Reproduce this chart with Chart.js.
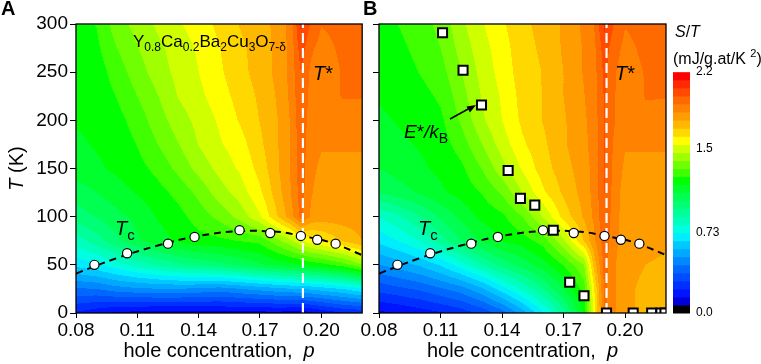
<!DOCTYPE html>
<html>
<head>
<meta charset="utf-8">
<script src="https://cdn.jsdelivr.net/npm/chart.js@4.4.1/dist/chart.umd.min.js"></script>
<style>
  html, body { margin: 0; padding: 0; background: #fff; }
  #wrapA { position: absolute; left: 0; top: 0; width: 368px; height: 364px; }
  #wrapB { position: absolute; left: 358px; top: 0; width: 403px; height: 364px; }
</style>
</head>
<body>
<div id="wrapA"><canvas id="chartA" width="368" height="364"></canvas></div>
<div id="wrapB"><canvas id="chartB" width="403" height="364"></canvas></div>
<script>
// grid nodes of the S/T map (hole concentration p, temperature T in K)
const pNodes = [0.08, 0.09, 0.10, 0.11, 0.12, 0.13, 0.14, 0.15, 0.16, 0.17, 0.18, 0.185, 0.19, 0.195, 0.20, 0.21, 0.22];
const tNodes = [300, 275, 250, 225, 200, 175, 150, 125, 100, 75, 50, 25, 0];

// S/T (mJ/g.at/K^2), panel A, one row per tNodes entry
const stA = [
  [1.21, 1.25, 1.36, 1.42, 1.48, 1.53, 1.58, 1.63, 1.69, 1.73, 1.79, 1.87, 2.07, 1.97, 1.91, 1.93, 1.93],
  [1.20, 1.23, 1.32, 1.39, 1.45, 1.50, 1.55, 1.61, 1.67, 1.72, 1.79, 1.86, 2.02, 1.92, 1.88, 1.92, 1.93],
  [1.19, 1.21, 1.28, 1.36, 1.43, 1.49, 1.54, 1.60, 1.66, 1.72, 1.79, 1.86, 1.98, 1.89, 1.86, 1.91, 1.92],
  [1.18, 1.20, 1.25, 1.32, 1.39, 1.47, 1.52, 1.58, 1.64, 1.70, 1.78, 1.85, 1.97, 1.88, 1.86, 1.91, 1.91],
  [1.18, 1.19, 1.22, 1.28, 1.36, 1.43, 1.49, 1.55, 1.62, 1.69, 1.77, 1.84, 1.96, 1.87, 1.85, 1.88, 1.88],
  [1.16, 1.18, 1.20, 1.25, 1.32, 1.39, 1.47, 1.53, 1.58, 1.67, 1.77, 1.84, 1.95, 1.86, 1.84, 1.84, 1.84],
  [1.14, 1.16, 1.19, 1.22, 1.27, 1.34, 1.42, 1.49, 1.55, 1.64, 1.77, 1.84, 1.95, 1.85, 1.82, 1.82, 1.82],
  [1.06, 1.10, 1.14, 1.18, 1.22, 1.27, 1.34, 1.43, 1.50, 1.60, 1.75, 1.83, 1.94, 1.84, 1.80, 1.80, 1.80],
  [0.99, 1.03, 1.08, 1.12, 1.18, 1.22, 1.28, 1.34, 1.42, 1.53, 1.71, 1.80, 1.93, 1.82, 1.80, 1.80, 1.80],
  [0.84, 0.92, 1.01, 1.09, 1.14, 1.19, 1.22, 1.23, 1.25, 1.27, 1.39, 1.45, 1.53, 1.58, 1.61, 1.69, 1.76],
  [0.68, 0.72, 0.78, 0.84, 0.89, 0.94, 0.97, 1.00, 1.04, 1.09, 1.13, 1.15, 1.17, 1.20, 1.22, 1.28, 1.39],
  [0.43, 0.44, 0.48, 0.50, 0.51, 0.51, 0.50, 0.48, 0.51, 0.54, 0.57, 0.58, 0.59, 0.60, 0.62, 0.66, 0.72],
  [0.21, 0.17, 0.13, 0.12, 0.11, 0.11, 0.11, 0.12, 0.12, 0.12, 0.12, 0.11, 0.10, 0.13, 0.16, 0.21, 0.23]
];

// S/T (mJ/g.at/K^2), panel B
const stB = [
  [1.21, 1.25, 1.29, 1.34, 1.45, 1.53, 1.60, 1.67, 1.71, 1.77, 1.85, 1.91, 2.07, 1.97, 1.91, 1.93, 1.93],
  [1.20, 1.23, 1.27, 1.32, 1.42, 1.51, 1.58, 1.66, 1.70, 1.77, 1.84, 1.89, 2.02, 1.93, 1.89, 1.92, 1.93],
  [1.19, 1.21, 1.25, 1.29, 1.39, 1.49, 1.57, 1.65, 1.69, 1.76, 1.84, 1.88, 2.00, 1.91, 1.88, 1.91, 1.92],
  [1.18, 1.20, 1.22, 1.26, 1.36, 1.47, 1.55, 1.64, 1.69, 1.76, 1.83, 1.88, 1.99, 1.91, 1.86, 1.91, 1.91],
  [1.16, 1.18, 1.20, 1.23, 1.33, 1.45, 1.54, 1.63, 1.69, 1.75, 1.82, 1.87, 1.98, 1.91, 1.86, 1.89, 1.88],
  [1.14, 1.16, 1.18, 1.21, 1.28, 1.39, 1.50, 1.60, 1.67, 1.75, 1.81, 1.87, 1.98, 1.89, 1.84, 1.84, 1.84],
  [1.10, 1.13, 1.16, 1.19, 1.23, 1.32, 1.44, 1.55, 1.65, 1.73, 1.80, 1.86, 1.98, 1.88, 1.82, 1.82, 1.82],
  [1.03, 1.07, 1.11, 1.16, 1.20, 1.25, 1.33, 1.47, 1.60, 1.70, 1.79, 1.86, 1.98, 1.87, 1.80, 1.80, 1.80],
  [0.81, 0.87, 0.95, 1.04, 1.12, 1.19, 1.23, 1.32, 1.47, 1.64, 1.77, 1.85, 1.97, 1.86, 1.80, 1.80, 1.80],
  [0.68, 0.74, 0.81, 0.92, 1.03, 1.11, 1.18, 1.21, 1.28, 1.45, 1.69, 1.82, 1.95, 1.85, 1.80, 1.78, 1.77],
  [0.51, 0.55, 0.60, 0.67, 0.77, 0.88, 0.98, 1.06, 1.14, 1.25, 1.39, 1.72, 1.94, 1.84, 1.79, 1.76, 1.75],
  [0.32, 0.35, 0.38, 0.43, 0.48, 0.57, 0.70, 0.82, 0.95, 1.10, 1.28, 1.61, 1.93, 1.84, 1.78, 1.74, 1.72],
  [0.13, 0.15, 0.18, 0.21, 0.25, 0.31, 0.40, 0.55, 0.72, 0.92, 1.18, 1.58, 1.92, 1.84, 1.78, 1.74, 1.72]
];

// Tc points and dome
const tcP = [0.089, 0.105, 0.125, 0.138, 0.160, 0.175, 0.190, 0.198, 0.207];
const tcT = [50, 62, 72, 79, 86, 83, 80, 76, 72];
const domeP = [0.08, 0.10, 0.12, 0.14, 0.16, 0.18, 0.19, 0.20, 0.21, 0.22];
const domeT = [41, 57, 70, 80, 85, 84, 80, 76, 69, 60];

// T* line and E*/kB squares (panel B)
const tStarP = 0.191;
const sqP = [0.111, 0.121, 0.130, 0.143, 0.149, 0.156, 0.165, 0.173, 0.180, 0.191, 0.204, 0.213, 0.2175, 0.2195];
const sqT = [291, 252, 216, 148, 119, 112, 86, 32, 18, 0, 0, 0, 0, 0];

// ticks
const xTicks = [0.08, 0.11, 0.14, 0.17, 0.20];
const yTicks = [0, 50, 100, 150, 200, 250, 300];
const cbTicks = [0, 0.73, 1.5, 2.2];
const cbLabels = ['0.0', '0.73', '1.5', '2.2'];

// colour scale, 30 bands from 0 to 2.2
const stMax = 2.2;
const bandColors = [
  '#000000', '#0000d8', '#0014ff', '#0030ff', '#004cff', '#0068ff', '#0088ff', '#00a8ff', '#00c8ff', '#00ecff',
  '#00ffe0', '#00ffbc', '#00ff98', '#00ff74', '#00ff50', '#00ff2c', '#00ff00', '#40ff00', '#70ff00', '#a0ff00',
  '#d0ff00', '#ffff00', '#ffd800', '#ffb800', '#ff9c00', '#ff8200', '#ff6a00', '#ff4a00', '#ff2a00', '#ff0000'
];

const FAMILY = '"Liberation Sans", Arial, sans-serif';
Chart.defaults.font.family = FAMILY;
Chart.defaults.color = '#000';

const bandRGB = bandColors.map(h => [parseInt(h.slice(1, 3), 16), parseInt(h.slice(3, 5), 16), parseInt(h.slice(5, 7), 16)]);

function clamp01(v) { return v < 0 ? 0 : (v > 1 ? 1 : v); }

// bilinear value of the grid at (p, T)
function sampleGrid(grid, p, t) {
  let i = 0;
  while (i < pNodes.length - 2 && p > pNodes[i + 1]) i++;
  let j = 0;
  while (j < tNodes.length - 2 && t < tNodes[j + 1]) j++;
  const fx = clamp01((p - pNodes[i]) / (pNodes[i + 1] - pNodes[i]));
  const fy = clamp01((tNodes[j] - t) / (tNodes[j] - tNodes[j + 1]));
  const a = grid[j][i], b = grid[j][i + 1], c = grid[j + 1][i], d = grid[j + 1][i + 1];
  return a * (1 - fx) * (1 - fy) + b * fx * (1 - fy) + c * (1 - fx) * fy + d * fx * fy;
}

// filled contour map, painted under everything
function makeField(grid) {
  return {
    id: 'field',
    beforeDraw(chart) {
      const { ctx, chartArea: a } = chart;
      const xs = chart.scales.x, ys = chart.scales.y;
      const left = Math.round(a.left), top = Math.round(a.top);
      const w = Math.round(a.right) - left, h = Math.round(a.bottom) - top;
      const img = ctx.createImageData(w, h);
      const step = stMax / bandColors.length;
      for (let r = 0; r < h; r++) {
        const t = ys.getValueForPixel(top + r + 0.5);
        for (let c = 0; c < w; c++) {
          const p = xs.getValueForPixel(left + c + 0.5);
          let k = Math.floor(sampleGrid(grid, p, t) / step);
          k = Math.max(0, Math.min(bandColors.length - 1, k));
          const rgb = bandRGB[k], idx = (r * w + c) * 4;
          img.data[idx] = rgb[0]; img.data[idx + 1] = rgb[1]; img.data[idx + 2] = rgb[2]; img.data[idx + 3] = 255;
        }
      }
      ctx.putImageData(img, left, top);
    }
  };
}

// frame round the plot
const boxPlugin = {
  id: 'box',
  afterDatasetsDraw(chart) {
    const { ctx, chartArea: a } = chart;
    ctx.save();
    ctx.strokeStyle = '#000';
    ctx.lineWidth = 1.3;
    ctx.strokeRect(a.left, a.top, a.right - a.left, a.bottom - a.top);
    ctx.restore();
  }
};

// text in mixed styles, left to right
function partsWidth(ctx, parts) {
  let w = 0;
  for (const pt of parts) {
    ctx.font = (pt.style || '') + ' ' + pt.size + 'px ' + FAMILY;
    w += ctx.measureText(pt.t).width;
  }
  return w;
}
function drawParts(ctx, x, y, parts) {
  ctx.textAlign = 'left';
  ctx.textBaseline = 'alphabetic';
  ctx.fillStyle = '#000';
  for (const pt of parts) {
    ctx.font = (pt.style || '') + ' ' + pt.size + 'px ' + FAMILY;
    ctx.fillText(pt.t, x, y + (pt.dy || 0));
    x += ctx.measureText(pt.t).width;
  }
}

const xTitle = [{ t: 'hole concentration,  ', size: 20 }, { t: 'p', size: 20, style: 'italic' }];
const tcLabel = [{ t: 'T', size: 20, style: 'italic' }, { t: 'c', size: 15, dy: 5 }];
const tStarLabel = [{ t: 'T', size: 20, style: 'italic' }, { t: '*', size: 20 }];

const pts = (xs, ys) => xs.map((v, i) => ({ x: v, y: ys[i] }));

function xScale() {
  return {
    type: 'linear', min: 0.08, max: 0.22,
    afterBuildTicks: s => { s.ticks = xTicks.map(v => ({ value: v })); },
    ticks: { callback: v => v.toFixed(2), font: { size: 19 }, color: '#000', padding: 1, maxRotation: 0, autoSkip: false },
    grid: { drawOnChartArea: false, tickLength: 5, color: '#000' },
    border: { display: false },
    afterFit: s => { s.height = 51; }
  };
}
function yScale(width, showLabels) {
  return {
    type: 'linear', min: 0, max: 300,
    afterBuildTicks: s => { s.ticks = yTicks.map(v => ({ value: v })); },
    ticks: { callback: v => showLabels ? String(v) : '', font: { size: 19 }, color: '#000', padding: 2 },
    grid: { drawOnChartArea: false, tickLength: 6, color: '#000' },
    border: { display: false },
    afterFit: s => { s.width = width; }
  };
}

function overlays(withSquares) {
  const ds = [];
  if (withSquares) {
    ds.push({ data: pts(sqP, sqT), pointStyle: 'rect', pointRadius: 6.4, pointBackgroundColor: '#fff',
              pointBorderColor: '#000', pointBorderWidth: 2 });
  }
  ds.push({ data: pts(tcP, tcT), pointRadius: 4.6, pointBackgroundColor: '#fff', pointBorderColor: '#000', pointBorderWidth: 1.2 });
  ds.push({ data: [{ x: tStarP, y: 0 }, { x: tStarP, y: 300 }], showLine: true, borderColor: '#fff',
            borderWidth: 2.2, borderDash: [10, 5], pointRadius: 0 });
  ds.push({ data: pts(domeP, domeT), showLine: true, borderColor: '#000', borderWidth: 2,
            borderDash: [7, 5], pointRadius: 0, tension: 0.4 });
  return ds;
}

const baseOptions = {
  responsive: false,
  animation: false,
  events: [],
  plugins: { legend: { display: false }, tooltip: { enabled: false } }
};

// panel A
const textA = {
  id: 'textA',
  afterDraw(chart) {
    const { ctx, chartArea: a } = chart;
    ctx.save();
    drawParts(ctx, 1, 15, [{ t: 'A', size: 20, style: 'bold' }]);
    drawParts(ctx, 133, 47, [
      { t: 'Y', size: 17 }, { t: '0.8', size: 12, dy: 4 }, { t: 'Ca', size: 17 }, { t: '0.2', size: 12, dy: 4 },
      { t: 'Ba', size: 17 }, { t: '2', size: 12, dy: 4 }, { t: 'Cu', size: 17 }, { t: '3', size: 12, dy: 4 },
      { t: 'O', size: 17 }, { t: '7-\u03b4', size: 12, dy: 4 }
    ]);
    drawParts(ctx, 313, 80, tStarLabel);
    drawParts(ctx, 115, 235, tcLabel);
    const cx = (a.left + a.right) / 2;
    drawParts(ctx, cx - partsWidth(ctx, xTitle) / 2, 357, xTitle);
    const yTitle = [{ t: 'T', size: 20, style: 'italic' }, { t: ' (K)', size: 20 }];
    ctx.translate(23, (a.top + a.bottom) / 2);
    ctx.rotate(-Math.PI / 2);
    drawParts(ctx, -partsWidth(ctx, yTitle) / 2, 0, yTitle);
    ctx.restore();
  }
};

new Chart(document.getElementById('chartA'), {
  type: 'scatter',
  data: { datasets: overlays(false) },
  options: Object.assign({}, baseOptions, {
    layout: { padding: { top: 24, right: 4, left: 0, bottom: 0 } },
    scales: { x: xScale(), y: yScale(76, true) }
  }),
  plugins: [makeField(stA), boxPlugin, textA]
});

// panel B with colour bar
const cbAxisMax = 2.64;
const textB = {
  id: 'textB',
  afterDraw(chart) {
    const { ctx, chartArea: a } = chart;
    const cb = chart.scales.cb;
    ctx.save();
    const step = stMax / bandColors.length;
    bandColors.forEach((c, i) => {
      const y0 = cb.getPixelForValue(i * step), y1 = cb.getPixelForValue((i + 1) * step);
      ctx.fillStyle = c;
      ctx.fillRect(315, y1, 17, y0 - y1 + 0.5);
    });
    drawParts(ctx, 5, 15, [{ t: 'B', size: 20, style: 'bold' }]);
    drawParts(ctx, 257, 80, tStarLabel);
    drawParts(ctx, 60, 235, tcLabel);
    drawParts(ctx, 46, 138, [
      { t: 'E', size: 19, style: 'italic' }, { t: '*', size: 19 }, { t: '/', size: 19, style: 'italic' },
      { t: 'k', size: 19, style: 'italic' }, { t: 'B', size: 14, dy: 5 }
    ]);
    // arrow to the E*/kB square
    ctx.strokeStyle = '#000'; ctx.fillStyle = '#000'; ctx.lineWidth = 1.5;
    ctx.beginPath(); ctx.moveTo(92, 119); ctx.lineTo(112, 108); ctx.stroke();
    ctx.beginPath(); ctx.moveTo(118, 105); ctx.lineTo(108.5, 106.5); ctx.lineTo(112, 112.5); ctx.closePath(); ctx.fill();
    drawParts(ctx, 317, 37, [{ t: 'S', size: 16, style: 'italic' }, { t: '/', size: 16 }, { t: 'T', size: 16, style: 'italic' }]);
    drawParts(ctx, 315, 64, [{ t: '(mJ/g.at/K ', size: 16 }, { t: '2', size: 11, dy: -7 }, { t: ')', size: 16 }]);
    const cx = (a.left + a.right) / 2;
    drawParts(ctx, cx - partsWidth(ctx, xTitle) / 2, 357, xTitle);
    ctx.restore();
  }
};

new Chart(document.getElementById('chartB'), {
  type: 'scatter',
  data: { datasets: overlays(true) },
  options: Object.assign({}, baseOptions, {
    layout: { padding: { top: 24, right: 0, left: 0, bottom: 0 } },
    scales: {
      x: xScale(),
      y: yScale(21, false),
      cb: {
        type: 'linear', position: 'right', min: 0, max: cbAxisMax,
        afterBuildTicks: s => { s.ticks = cbTicks.map(v => ({ value: v })); },
        // label offset comes from an invisible tick length, so the top padding stays small
        ticks: { callback: (v, i) => cbLabels[i], font: { size: 12 }, color: '#000', padding: 0 },
        grid: { display: false, drawTicks: true, tickLength: 30 },
        border: { display: false },
        afterFit: s => { s.width = 95; }
      }
    }
  }),
  plugins: [makeField(stB), boxPlugin, textB]
});
</script>
</body>
</html>
